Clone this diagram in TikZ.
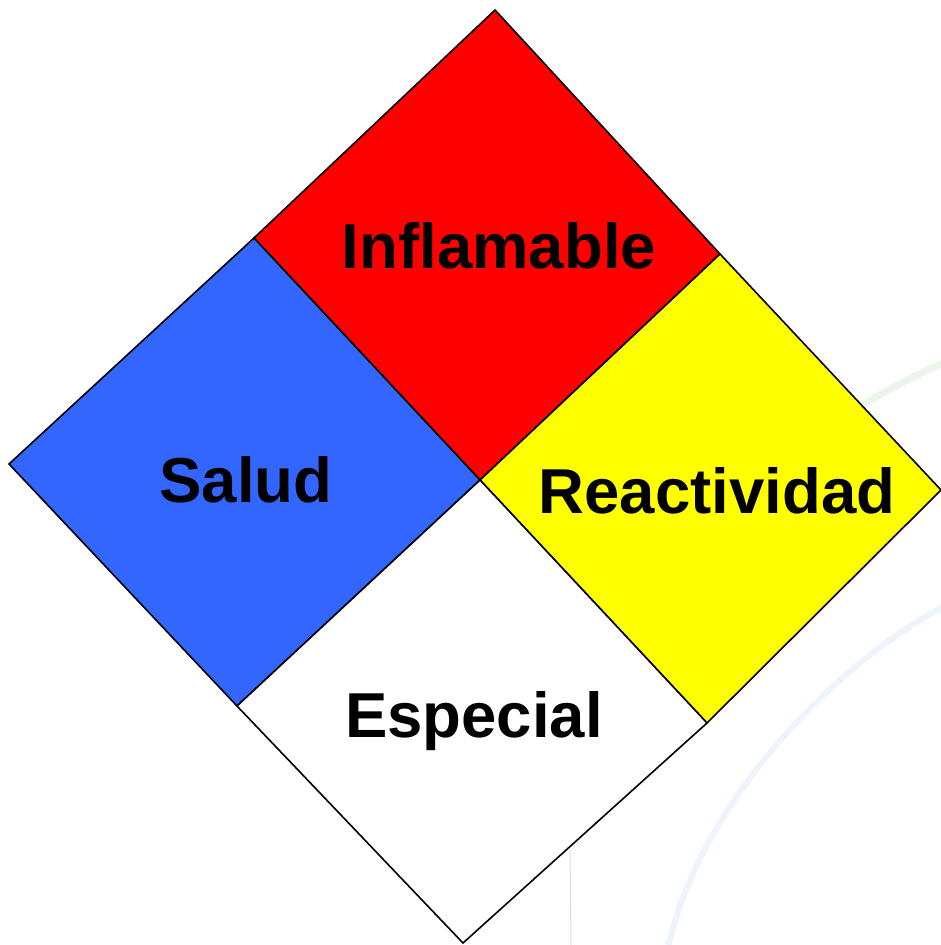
\documentclass[tikz,border=0pt]{standalone}
\usepackage{fontspec}
\setmainfont{Liberation Sans}
\definecolor{nfpared}{HTML}{FF0000}
\definecolor{nfpablue}{HTML}{3366FF}
\definecolor{nfpayellow}{HTML}{FFFF00}
\definecolor{bggreen}{HTML}{EAF5EC}
\definecolor{bgblue}{HTML}{EEF4FC}
\definecolor{bgline}{HTML}{D8E2D8}
\begin{document}
\begin{tikzpicture}[x=1pt,y=-1pt,
  quad/.style={draw=black,line width=1.6pt,line join=miter},
  lbl/.style={font=\bfseries\fontsize{63.5}{70}\selectfont,anchor=base,inner sep=0pt,text=black}]
\useasboundingbox (0,0) rectangle (941,945);
% faint background decoration
\draw[bggreen,line width=7pt] (820,432) .. controls (860,405) and (900,382) .. (945,362);
\draw[bgblue,line width=6pt] (945,606) .. controls (840,660) and (700,800) .. (668,948);
\draw[bgline,line width=1pt] (570,850) -- (571,945);
% vertices
\coordinate (T) at (495,10);
\coordinate (L) at (9,464);
\coordinate (B) at (463,943);
\coordinate (R) at (941,490);
\coordinate (C) at (480,480);
\coordinate (TL) at (254,238);
\coordinate (TR) at (720,254);
\coordinate (BL) at (237,706);
\coordinate (BR) at (707,723);
% quadrants
\filldraw[quad,fill=nfpared] (T) -- (TR) -- (C) -- (TL) -- cycle;
\filldraw[quad,fill=nfpablue] (TL) -- (C) -- (BL) -- (L) -- cycle;
\filldraw[quad,fill=nfpayellow] (TR) -- (R) -- (BR) -- (C) -- cycle;
\filldraw[quad,fill=white] (C) -- (BR) -- (B) -- (BL) -- cycle;
% labels
\node[lbl] (inf) at (499,268) {Inflamable};
\node[lbl] (sal) at (246,502) {Salud};
\node[lbl] (rea) at (717,513) {Reactividad};
\node[lbl] (esp) at (474,737) {Especial};
\end{tikzpicture}
\end{document}
